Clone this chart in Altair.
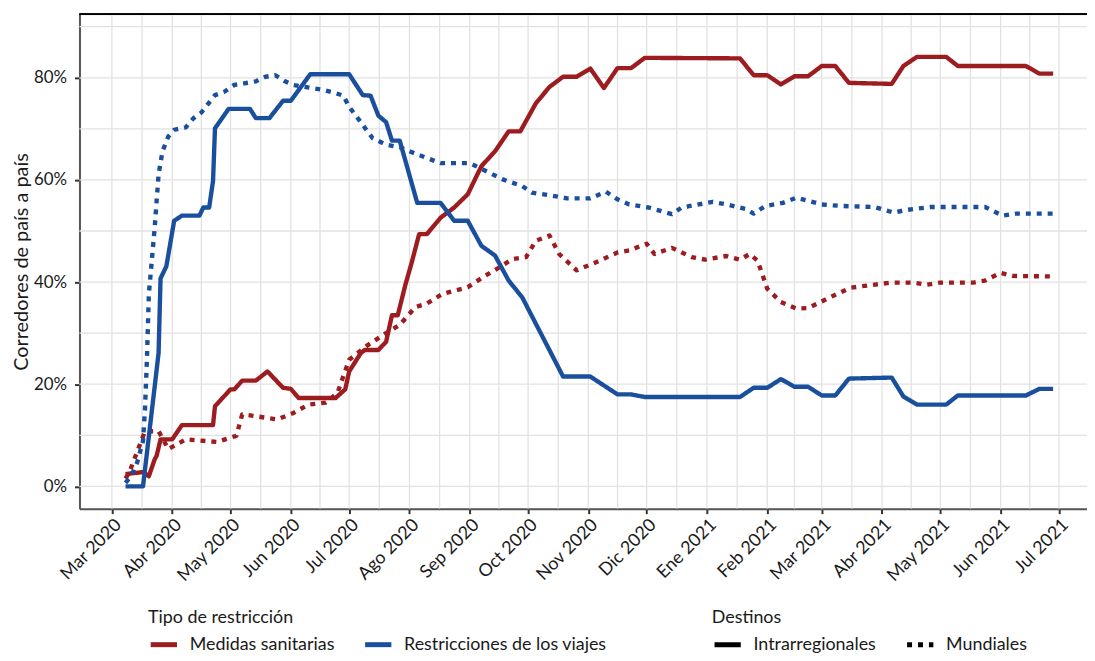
import altair as alt
import pandas as pd

RED = "#9C1C20"
BLUE = "#1A4F9E"
GRID = "#e2e2e2"
FONT = "Lato"
TXT = "#1a1a1a"

TIPOS = ["Medidas sanitarias", "Restricciones de los viajes"]
DESTINOS = ["Intrarregionales", "Mundiales"]
MESES = ["Ene", "Feb", "Mar", "Abr", "May", "Jun", "Jul", "Ago", "Sep", "Oct", "Nov", "Dic"]

# Medidas sanitarias - Intrarregionales (solid red)
san_intra_fechas = ["2020-03-08", "2020-03-17", "2020-03-20", "2020-03-23", "2020-03-24", "2020-03-26",
                    "2020-04-01", "2020-04-06", "2020-04-22", "2020-04-23", "2020-05-01", "2020-05-03",
                    "2020-05-07", "2020-05-14", "2020-05-20", "2020-05-28", "2020-06-01", "2020-06-05",
                    "2020-06-24", "2020-06-29", "2020-07-01", "2020-07-07", "2020-07-09", "2020-07-16",
                    "2020-07-20", "2020-07-23", "2020-07-26", "2020-07-30", "2020-08-02", "2020-08-06",
                    "2020-08-10", "2020-08-17", "2020-08-24", "2020-08-31", "2020-09-07", "2020-09-14",
                    "2020-09-21", "2020-09-27", "2020-10-05", "2020-10-12", "2020-10-19", "2020-10-26",
                    "2020-11-02", "2020-11-09", "2020-11-16", "2020-11-23", "2020-11-30", "2021-01-18",
                    "2021-01-25", "2021-02-01", "2021-02-08", "2021-02-15", "2021-02-22", "2021-03-01",
                    "2021-03-08", "2021-03-15", "2021-04-06", "2021-04-12", "2021-04-19", "2021-05-04",
                    "2021-05-10", "2021-06-14", "2021-06-21", "2021-06-28"]
san_intra_valores = [2.4, 2.8, 2.0, 5.3, 6.0, 9.2,
                     9.2, 12.0, 12.0, 15.7, 19.0, 19.0,
                     20.7, 20.7, 22.5, 19.3, 19.1, 17.3,
                     17.3, 19.0, 22.5, 26.1, 26.7, 26.7,
                     28.3, 33.5, 33.5, 39.6, 43.6, 49.4,
                     49.4, 52.6, 54.6, 57.2, 62.7, 65.6,
                     69.5, 69.5, 75.0, 78.2, 80.2, 80.2,
                     81.8, 78.0, 81.9, 81.9, 83.9, 83.8,
                     80.5, 80.5, 78.7, 80.3, 80.3, 82.3,
                     82.3, 79.0, 78.8, 82.3, 84.1, 84.1,
                     82.3, 82.3, 80.8, 80.8]

# Medidas sanitarias - Mundiales (dotted red)
san_mund_fechas = ["2020-03-08", "2020-03-10", "2020-03-18", "2020-03-25", "2020-03-30", "2020-04-08",
                   "2020-04-24", "2020-05-04", "2020-05-07", "2020-05-13", "2020-05-25", "2020-06-02",
                   "2020-06-10", "2020-06-19", "2020-06-25", "2020-07-01", "2020-07-10", "2020-07-20",
                   "2020-07-27", "2020-08-04", "2020-08-10", "2020-08-18", "2020-08-31", "2020-09-08",
                   "2020-09-15", "2020-09-23", "2020-09-30", "2020-10-05", "2020-10-12", "2020-10-17",
                   "2020-10-26", "2020-11-05", "2020-11-16", "2020-11-22", "2020-12-01", "2020-12-05",
                   "2020-12-14", "2020-12-24", "2020-12-31", "2021-01-11", "2021-01-18", "2021-01-23",
                   "2021-01-27", "2021-02-01", "2021-02-08", "2021-02-16", "2021-02-22", "2021-03-02",
                   "2021-03-09", "2021-03-16", "2021-03-26", "2021-04-06", "2021-04-17", "2021-04-24",
                   "2021-05-01", "2021-05-18", "2021-05-24", "2021-06-01", "2021-06-07", "2021-06-28"]
san_mund_valores = [1.5, 2.8, 10.8, 10.8, 7.3, 9.2,
                    8.7, 9.9, 14.1, 13.8, 13.1, 14.3,
                    16.0, 16.4, 18.3, 24.8, 27.5, 30.0,
                    31.6, 35.1, 35.8, 37.7, 39.0, 41.0,
                    42.6, 44.5, 44.9, 48.1, 49.1, 45.5,
                    42.3, 43.9, 45.8, 46.2, 47.5, 45.5,
                    46.7, 44.9, 44.4, 45.1, 44.4, 45.5,
                    44.2, 38.7, 36.1, 34.8, 34.9, 36.4,
                    37.7, 38.9, 39.4, 39.9, 39.9, 39.5,
                    39.9, 39.9, 40.3, 41.8, 41.2, 41.1]

# Restricciones de los viajes - Intrarregionales (solid blue)
via_intra_fechas = ["2020-03-08", "2020-03-17", "2020-03-25", "2020-03-26", "2020-03-29", "2020-04-02",
                    "2020-04-06", "2020-04-15", "2020-04-17", "2020-04-20", "2020-04-22", "2020-04-23",
                    "2020-04-30", "2020-05-11", "2020-05-14", "2020-05-21", "2020-05-28", "2020-06-01",
                    "2020-06-11", "2020-07-01", "2020-07-08", "2020-07-12", "2020-07-16", "2020-07-20",
                    "2020-07-23", "2020-07-27", "2020-08-05", "2020-08-17", "2020-08-24", "2020-08-31",
                    "2020-09-07", "2020-09-14", "2020-09-21", "2020-09-28", "2020-10-19", "2020-11-02",
                    "2020-11-16", "2020-11-23", "2020-11-30", "2021-01-18", "2021-01-25", "2021-02-01",
                    "2021-02-08", "2021-02-15", "2021-02-22", "2021-03-01", "2021-03-08", "2021-03-15",
                    "2021-04-06", "2021-04-12", "2021-04-19", "2021-05-04", "2021-05-10", "2021-06-14",
                    "2021-06-21", "2021-06-28"]
via_intra_valores = [0.0, 0.0, 26.1, 40.7, 43.1, 52.0,
                     53.0, 53.0, 54.6, 54.6, 59.8, 70.1,
                     73.9, 73.9, 72.1, 72.1, 75.5, 75.5,
                     80.7, 80.7, 76.6, 76.5, 72.6, 71.3,
                     67.7, 67.7, 55.5, 55.5, 52.0, 52.0,
                     47.1, 45.2, 40.3, 37.0, 21.5, 21.5,
                     18.0, 18.0, 17.5, 17.5, 19.3, 19.3,
                     21.0, 19.5, 19.5, 17.8, 17.8, 21.1,
                     21.3, 17.6, 16.0, 16.0, 17.8, 17.8,
                     19.1, 19.1]

# Restricciones de los viajes - Mundiales (dotted blue)
via_mund_fechas = ["2020-03-08", "2020-03-11", "2020-03-14", "2020-03-17", "2020-03-18", "2020-03-19",
                   "2020-03-20", "2020-03-23", "2020-03-25", "2020-03-27", "2020-03-30", "2020-04-02",
                   "2020-04-08", "2020-04-12", "2020-04-16", "2020-04-23", "2020-04-28", "2020-05-03",
                   "2020-05-08", "2020-05-14", "2020-05-19", "2020-05-24", "2020-05-29", "2020-06-02",
                   "2020-06-13", "2020-06-18", "2020-06-23", "2020-06-28", "2020-07-01", "2020-07-06",
                   "2020-07-13", "2020-07-20", "2020-07-27", "2020-08-05", "2020-08-17", "2020-09-01",
                   "2020-09-08", "2020-09-18", "2020-09-28", "2020-10-03", "2020-10-12", "2020-10-21",
                   "2020-11-02", "2020-11-10", "2020-11-16", "2020-11-22", "2020-12-02", "2020-12-14",
                   "2020-12-19", "2021-01-04", "2021-01-11", "2021-01-21", "2021-01-25", "2021-01-31",
                   "2021-02-09", "2021-02-16", "2021-03-01", "2021-03-11", "2021-03-28", "2021-04-07",
                   "2021-04-13", "2021-04-26", "2021-05-24", "2021-06-02", "2021-06-09", "2021-06-28"]
via_mund_valores = [0.7, 2.1, 4.7, 8.9, 15.1, 24.8,
                    37.7, 50.7, 61.1, 65.6, 68.5, 69.8,
                    70.3, 72.1, 73.2, 76.6, 77.3, 78.6,
                    78.9, 79.3, 80.2, 80.5, 79.3, 78.6,
                    77.9, 77.6, 77.1, 76.5, 74.3, 71.8,
                    68.2, 66.9, 66.4, 65.0, 63.3, 63.3,
                    62.0, 60.1, 58.8, 57.5, 57.0, 56.4,
                    56.4, 57.7, 56.2, 55.2, 54.6, 53.3,
                    54.6, 55.7, 55.2, 54.3, 53.4, 54.9,
                    55.5, 56.5, 55.2, 54.9, 54.7, 53.6,
                    54.1, 54.7, 54.7, 53.0, 53.4, 53.4]

# axis ticks
MES_TICKS = ["2020-03-01", "2020-04-01", "2020-05-01", "2020-06-01", "2020-07-01", "2020-08-01",
             "2020-09-01", "2020-10-01", "2020-11-01", "2020-12-01", "2021-01-01", "2021-02-01",
             "2021-03-01", "2021-04-01", "2021-05-01", "2021-06-01", "2021-07-01"]
Y_TICKS = [0, 20, 40, 60, 80]
Y_MINOR = [10, 30, 50, 70, 90]

# ---------------------------------------------------------------
rows = []
for tipo, destino, fechas, valores in [
    (TIPOS[0], DESTINOS[0], san_intra_fechas, san_intra_valores),
    (TIPOS[0], DESTINOS[1], san_mund_fechas, san_mund_valores),
    (TIPOS[1], DESTINOS[0], via_intra_fechas, via_intra_valores),
    (TIPOS[1], DESTINOS[1], via_mund_fechas, via_mund_valores),
]:
    for f, v in zip(fechas, valores):
        rows.append({"tipo": tipo, "destino": destino, "fecha": f, "valor": v})
df = pd.DataFrame(rows)

ticks_ts = pd.to_datetime(MES_TICKS)
mid_ts = [ticks_ts[i] + (ticks_ts[i + 1] - ticks_ts[i]) / 2 for i in range(len(ticks_ts) - 1)]
vgrid = pd.DataFrame({"fecha": [t.strftime("%Y-%m-%dT%H:%M:%SZ") for t in ticks_ts] +
                               [t.strftime("%Y-%m-%dT%H:%M:%SZ") for t in mid_ts]})
hgrid = pd.DataFrame({"valor": Y_TICKS + Y_MINOR})


def dt(s):
    t = pd.Timestamp(s)
    return alt.DateTime(year=t.year, month=t.month, date=t.day, hours=t.hour,
                        minutes=t.minute, utc=True)


xscale = alt.Scale(type="utc", domain=[dt("2020-02-13T07:30"), dt("2021-07-15T10:00")])
yscale = alt.Scale(domain=[-4.37, 92.42], nice=False, zero=False)

W, H = 1015, 498

label_expr = "[" + ",".join("'%s'" % m for m in MESES) + "][utcmonth(datum.value)] + ' ' + utcyear(datum.value)"

xaxis = alt.Axis(values=[dt(m) for m in MES_TICKS], labelExpr=label_expr,
                 labelAngle=315, labelAlign="right", labelBaseline="top",
                 labelFontSize=18, labelFont=FONT, labelColor=TXT, labelPadding=2,
                 tickSize=5, tickWidth=2, tickColor="#333", title=None,
                 domainColor="#555", domainWidth=2, grid=False, labelOverlap=False)
yaxis = alt.Axis(values=Y_TICKS, labelExpr="datum.value + '%'",
                 labelFontSize=17, labelFont=FONT, labelColor=TXT, labelPadding=8,
                 tickSize=5, tickWidth=2, tickColor="#333",
                 domainColor="#555", domainWidth=2, grid=False,
                 title="Corredores de país a país",
                 titleFont=FONT, titleFontSize=20, titleFontWeight="normal",
                 titleColor=TXT, titlePadding=2)

vg = alt.Chart(vgrid).mark_rule(color=GRID, strokeWidth=1.3, clip=True).encode(
    x=alt.X("fecha:T", scale=xscale, axis=xaxis, title=None)
)
hg = alt.Chart(hgrid).mark_rule(color=GRID, strokeWidth=1.3).encode(
    y=alt.Y("valor:Q", scale=yscale, axis=yaxis, title="Corredores de país a país")
)

leg_common = dict(orient="none", direction="horizontal", symbolType="stroke", symbolSize=700,
                  symbolStrokeWidth=5, labelOffset=10, columnPadding=20, titlePadding=2,
                  padding=0, labelLimit=500, titleFont=FONT, titleFontSize=18,
                  titleFontWeight="normal", titleColor=TXT, labelFont=FONT,
                  labelFontSize=18, labelColor=TXT)

lines = alt.Chart(df).mark_line(strokeWidth=4.4, strokeJoin="round", strokeCap="butt").encode(
    x=alt.X("fecha:T", scale=xscale, axis=xaxis, title=None),
    y=alt.Y("valor:Q", scale=yscale, axis=yaxis, title="Corredores de país a país"),
    color=alt.Color("tipo:N", scale=alt.Scale(domain=TIPOS, range=[RED, BLUE]),
                    legend=alt.Legend(title="Tipo de restricción", legendX=69, legendY=599,
                                      **leg_common)),
    strokeDash=alt.StrokeDash("destino:N",
                              scale=alt.Scale(domain=DESTINOS, range=[[1, 0], [5, 6]]),
                              legend=alt.Legend(title="Destinos", legendX=637, legendY=599,
                                                symbolStrokeColor="black", **leg_common)),
)

top_border = alt.Chart(hgrid).mark_rule(color="black", strokeWidth=1.2).encode(
    x=alt.value(0), x2=alt.value(W), y=alt.value(0)
)

chart = alt.layer(vg, hg, lines, top_border).properties(
    width=W, height=H,
    autosize=alt.AutoSizeParams(type="none"),
    padding={"left": 72, "top": 4, "right": 0, "bottom": 143},
).configure_view(stroke=None).configure(font=FONT, background="white")

chart.save("out.html", embed_options={"renderer": "svg", "actions": False})
